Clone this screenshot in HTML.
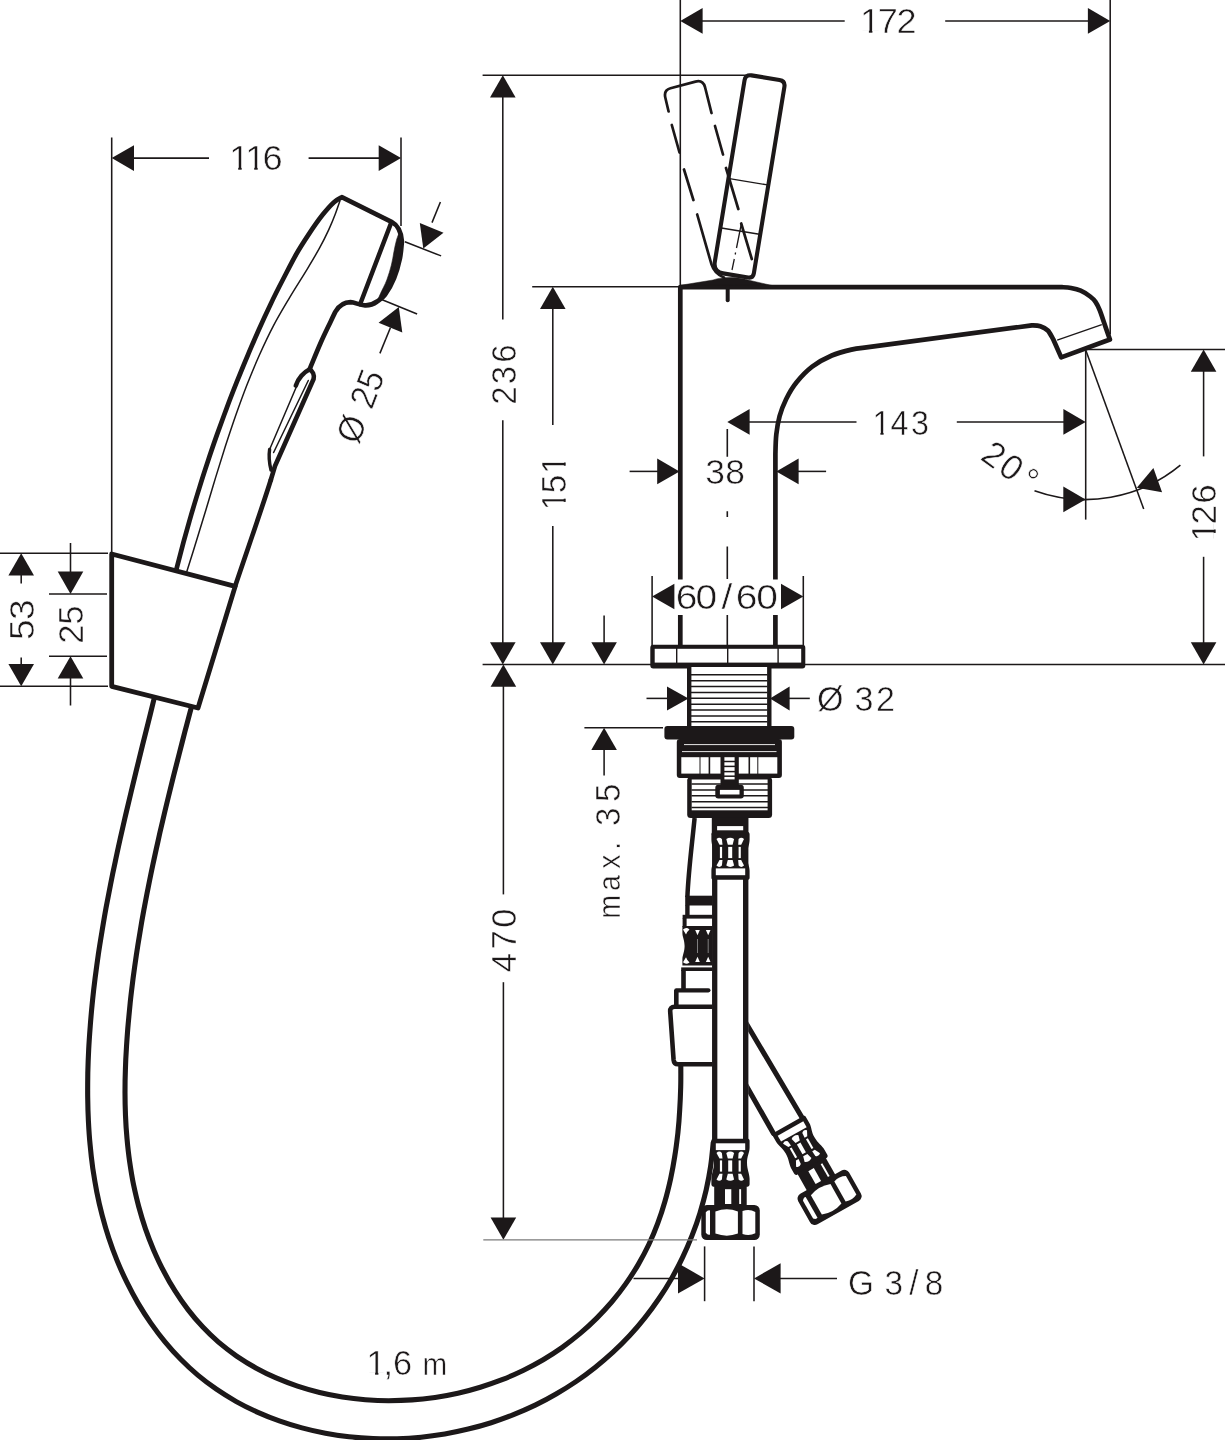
<!DOCTYPE html>
<html lang="en">
<head>
<meta charset="utf-8">
<title>Dimensional drawing</title>
<style>
html,body{margin:0;padding:0;background:#fff;}
body{width:1225px;height:1440px;overflow:hidden;}
svg{display:block;will-change:transform;}
svg text{font-family:"Liberation Sans",sans-serif;fill:#1c1819;white-space:pre;stroke:#fff;stroke-width:0.55px;}
</style>
</head>
<body>
<svg width="1225" height="1440" viewBox="0 0 1225 1440">
<rect x="0" y="0" width="1225" height="1440" fill="#fff"/>
<g id="hand-shower" stroke-linejoin="round" stroke-linecap="round">
<path d="M153.9 699.5C153 703.4 150.1 714.9 148.2 722.6C146.2 730.3 144.3 738 142.4 745.7C140.5 753.5 138.6 761.2 136.7 768.9C134.8 776.6 132.9 784.3 131.1 792C129.2 799.7 127.4 807.4 125.6 815.1C123.8 822.8 122.1 830.5 120.3 838.3C118.6 846 116.9 853.7 115.3 861.5C113.6 869.2 112 876.9 110.5 884.7C109 892.4 107.5 900.2 106 908C104.6 915.7 103.3 923.5 102 931.3C100.7 939.1 99.4 946.9 98.3 954.7C97.2 962.5 96.1 970.4 95.1 978.2C94.1 986 93.2 993.9 92.4 1001.8C91.6 1009.6 90.9 1017.5 90.3 1025.4C89.7 1033.3 89.1 1041.2 88.7 1049.2C88.3 1057.1 88 1065.1 87.8 1073C87.7 1081 87.6 1089 87.7 1097C87.8 1105 88 1112.9 88.4 1120.9C88.8 1128.9 89.3 1136.8 90.1 1144.8C90.8 1152.7 91.7 1160.6 92.8 1168.5C94 1176.3 95.3 1184.2 96.8 1192C98.3 1199.7 100.1 1207.5 102.1 1215.2C104.1 1222.8 106.3 1230.5 108.8 1238C111.3 1245.6 114 1253 117 1260.4C120 1267.8 123.3 1275 126.8 1282.2C130.3 1289.3 134 1296.3 138 1303.1C142 1309.9 146.3 1316.6 150.8 1323.1C155.3 1329.5 160 1335.8 165 1341.8C170 1347.9 175.2 1353.7 180.7 1359.2C186.2 1364.8 191.9 1370.1 197.8 1375.1C203.8 1380.1 210 1384.8 216.4 1389.2C222.8 1393.6 229.5 1397.7 236.3 1401.6C243.1 1405.4 250.1 1408.9 257.3 1412.1C264.5 1415.3 271.8 1418.3 279.3 1420.9C286.7 1423.5 294.3 1425.9 302 1427.9C309.7 1430 317.5 1431.8 325.4 1433.2C333.2 1434.7 341.2 1435.9 349.1 1436.8C357.1 1437.7 365.1 1438.3 373.1 1438.6C381.1 1438.9 389.1 1439 397.1 1438.7C405.1 1438.5 413.1 1438 421.1 1437.2C429 1436.4 436.9 1435.3 444.8 1434C452.6 1432.6 460.5 1431 468.2 1429.1C475.9 1427.2 483.6 1425.1 491.1 1422.7C498.7 1420.3 506.2 1417.6 513.5 1414.7C520.8 1411.7 528.1 1408.5 535.2 1405.1C542.3 1401.7 549.3 1398 556.1 1394C562.9 1390.1 569.6 1385.9 576.1 1381.5C582.6 1377.1 589 1372.4 595.1 1367.5C601.2 1362.7 607.2 1357.5 613 1352.2C618.7 1346.9 624.3 1341.3 629.7 1335.5C635 1329.8 640.1 1323.8 645 1317.6C649.9 1311.4 654.6 1305 659 1298.5C663.5 1292 667.7 1285.2 671.6 1278.4C675.5 1271.5 679.2 1264.5 682.6 1257.3C686.1 1250.1 689.2 1242.8 692.1 1235.4C695 1228 697.7 1220.5 700 1212.9C702.3 1205.3 704.4 1197.6 706.2 1189.9C707.9 1182.2 709.4 1174.3 710.6 1166.5C711.8 1158.6 712.8 1146.8 713.2 1142.8" fill="none" stroke="#1c1819" stroke-width="5.1" />
<path d="M190.8 709.3C189.8 713 186.9 724.2 184.9 731.6C183 739 181.1 746.5 179.2 753.9C177.3 761.3 175.4 768.7 173.5 776.2C171.7 783.6 169.8 791 168 798.5C166.2 805.9 164.4 813.3 162.7 820.8C160.9 828.2 159.2 835.6 157.6 843.1C155.9 850.5 154.3 858 152.7 865.5C151.1 872.9 149.6 880.4 148.1 887.9C146.6 895.3 145.2 902.8 143.8 910.3C142.4 917.8 141.1 925.3 139.9 932.8C138.6 940.4 137.4 947.9 136.3 955.4C135.2 963 134.1 970.5 133.1 978.1C132.2 985.7 131.2 993.2 130.4 1000.8C129.6 1008.4 128.9 1016 128.2 1023.7C127.5 1031.3 127 1039 126.5 1046.6C126 1054.3 125.6 1062 125.4 1069.6C125.1 1077.3 125 1085 125 1092.7C125 1100.4 125.2 1108 125.5 1115.7C125.8 1123.3 126.3 1131 127 1138.6C127.7 1146.3 128.5 1153.9 129.6 1161.4C130.7 1169 131.9 1176.6 133.4 1184.1C135 1191.6 136.7 1199.1 138.7 1206.5C140.7 1213.9 142.9 1221.3 145.4 1228.6C147.9 1235.9 150.7 1243.1 153.7 1250.2C156.8 1257.3 160 1264.3 163.6 1271C167.1 1277.8 170.9 1284.5 175 1290.9C179.1 1297.4 183.4 1303.6 188 1309.6C192.6 1315.6 197.5 1321.4 202.6 1326.8C207.7 1332.3 213.2 1337.5 218.8 1342.4C224.5 1347.2 230.5 1351.8 236.6 1356.1C242.8 1360.3 249.2 1364.3 255.8 1367.9C262.4 1371.5 269.2 1374.9 276.1 1377.9C283.1 1380.9 290.2 1383.6 297.5 1386.1C304.7 1388.5 312.1 1390.6 319.6 1392.4C327.1 1394.2 334.7 1395.7 342.3 1397C349.9 1398.2 357.7 1399.1 365.4 1399.7C373.1 1400.3 380.9 1400.7 388.7 1400.7C396.4 1400.7 404.2 1400.5 412 1399.9C419.7 1399.4 427.4 1398.5 435.1 1397.4C442.7 1396.3 450.4 1394.9 457.9 1393.2C465.4 1391.5 472.9 1389.5 480.3 1387.2C487.6 1385 494.9 1382.5 502.1 1379.7C509.2 1376.9 516.2 1373.8 523.1 1370.5C529.9 1367.1 536.7 1363.5 543.2 1359.7C549.7 1355.8 556.1 1351.7 562.3 1347.3C568.4 1342.9 574.4 1338.3 580.2 1333.4C585.9 1328.5 591.5 1323.4 596.8 1318.1C602.1 1312.8 607.2 1307.2 612.1 1301.5C617 1295.7 621.6 1289.7 625.9 1283.6C630.3 1277.4 634.4 1271.1 638.2 1264.6C642 1258 645.6 1251.3 648.8 1244.5C652.1 1237.6 655.1 1230.5 657.7 1223.4C660.4 1216.2 662.8 1208.9 664.9 1201.5C667.1 1194.1 668.9 1186.5 670.6 1178.9C672.2 1171.4 673.6 1163.7 674.8 1156C676.1 1148.4 677 1140.6 677.9 1132.9C678.7 1125.2 679.3 1117.5 679.7 1109.8C680.2 1102.2 680.5 1094.5 680.7 1087C680.9 1079.4 680.8 1068.3 680.8 1064.6" fill="none" stroke="#1c1819" stroke-width="5.1" />
<path d="M339.9 200.9C339.1 203.1 337.1 209.2 335.3 214C333.5 218.8 331.4 223.9 328.8 229.6C326.2 235.2 323.3 241.2 319.6 247.9C315.9 254.7 311.6 261.8 306.6 270.1C301.6 278.4 295.1 288.3 289.6 297.6C284.1 306.9 278.4 316.3 273.4 325.9C268.3 335.5 263.8 345.3 259.3 355.2C254.9 365.1 250.8 375.2 246.8 385.3C242.9 395.3 239.2 405.6 235.6 415.8C232 426.1 228.6 436.4 225.2 446.7C221.9 457.1 218.7 467.5 215.5 477.9C212.3 488.3 209.2 498.7 206.1 509.2C202.9 519.6 199.8 530 196.6 540.3C193.4 550.7 188.5 566.1 186.9 571.3" fill="none" stroke="#1c1819" stroke-width="1.5" />
<path d="M176.4 569.4C177.6 564.8 181.1 551.2 183.5 542.2C186 533.1 188.5 524.1 191.1 515.1C193.8 506 196.5 497 199.3 488.1C202 479.1 204.9 470.2 207.9 461.2C210.8 452.3 213.9 443.4 217 434.6C220.2 425.7 223.4 416.9 226.7 408.1C230 399.2 233.4 390.5 236.9 381.7C240.4 373 243.9 364.3 247.6 355.7C251.2 347 255 338.4 258.8 329.8C262.6 321.2 266.5 312.7 270.6 304.2C274.6 295.7 278.9 287.3 283.2 279C287.5 270.7 291.8 262.1 296.1 254.5C300.4 246.9 304.9 240.1 309.2 233.6C313.5 227.1 318.1 220.5 322.2 215.3C326.3 210.1 330.7 205.2 334 202.2C337.3 199.2 340.5 198 341.8 197.2L391.5 221.8C396.5 224.5 401.2 231 401.9 241.4C401.6 244.2 401.2 252.3 399.9 258.4C398.6 264.5 396.6 271.9 394.1 278C391.6 284.1 387.7 291.1 384.9 295C382.1 298.9 378.4 300.4 377.1 301.5C373 304.5 369 305.6 365 305.4 C359 305 355 302.3 350.5 302.2 C344 302.2 338.5 306.5 335.3 311.9C334.5 313.5 333 316.6 330.6 321.7C328.2 326.8 324.3 334.6 320.8 342.5C317.3 350.4 311.6 364.5 309.7 368.9" fill="none" stroke="#1c1819" stroke-width="4.7" />
<path d="M390.8 223.8 L360.1 304.3" fill="none" stroke="#1c1819" stroke-width="4.5" />
<path d="M400 230.5 C401.3 235 401.9 238 401.9 241.4C401.6 244.2 401.2 252.3 399.9 258.4C398.6 264.5 396.6 271.9 394.1 278C391.6 284.1 387.7 291.1 384.9 295C382.1 298.9 378.4 300.4 377.1 301.5C377.7 300.2 378.9 297.1 380.5 293.5C382.1 289.9 385 284.8 386.8 280C388.6 275.2 390.2 269.7 391.4 265C392.6 260.3 393.1 256.1 393.9 252C394.7 247.9 395.4 244.1 396.4 240.5C397.4 236.9 399.4 232.2 400 230.5Z" fill="#1c1819" stroke="#1c1819" stroke-width="0.6" />
<path d="M295.8 385.6 C298 378.5 304 372 309.7 369.2 C312.5 371 314.5 375 313.6 379 L275 466 L270.8 480" fill="none" stroke="#1c1819" stroke-width="4.6" />
<path d="M308.3 380.5 L273.6 452.5" fill="none" stroke="#1c1819" stroke-width="1.5" />
<path d="M296.5 386.5 L269.6 449.5" fill="none" stroke="#1c1819" stroke-width="1.5" />
<path d="M269.6 449.5 C268.6 456 269.5 464 271 470" fill="none" stroke="#1c1819" stroke-width="3.4" />
<path d="M270.8 480 C262 508 248 548 235.2 586" fill="none" stroke="#1c1819" stroke-width="4.7" />
<path d="M111.7 554 L235.2 586.4 L198 708 L111.7 686.3 Z" fill="#fff" stroke="#1c1819" stroke-width="4.8" />
</g>
<g id="faucet" stroke-linejoin="round" stroke-linecap="butt">
<path d="M680.3 645 L680.3 287.2 L1062 287.2C1063.5 287.3 1067.9 287.4 1071 288C1074.1 288.6 1077.5 289.3 1080.7 290.7C1083.9 292.1 1087.7 294.6 1090.2 296.5C1092.7 298.4 1093.9 299.5 1095.5 301.8C1097.1 304.1 1098.5 307.1 1099.8 310.3C1101.1 313.5 1101.8 316.1 1103.5 321C1105.2 325.9 1108.8 336.4 1109.9 339.5L1061.2 357.4 L1053.1 339C1052.2 337.6 1049.9 332.6 1047.8 330.5C1045.7 328.4 1043 327.2 1040.3 326.3C1037.6 325.4 1033.2 325.5 1031.8 325.4L864.5 347.6C862.3 347.9 856.9 348.3 851.4 349.6C845.9 350.9 838.3 352.7 831.8 355.5C825.3 358.3 818.1 362.2 812.2 366.6C806.3 371.1 801 376.8 796.6 382.2C792.2 387.6 788.9 393.5 786.1 399.2C783.3 404.9 781.2 410.3 779.6 416.2C778 422.1 777 428.2 776.3 434.5C775.6 440.8 775.5 450.8 775.4 454.1L775.4 645" fill="none" stroke="#1c1819" stroke-width="4.7" />
<line x1="1057.2" y1="340.1" x2="1101.8" y2="324.7" stroke="#1c1819" stroke-width="1.4" />
<path d="M680.5 285.3 L713 280 C722 276.5 740 276.5 748 280 L772 285.5 Z" fill="#1c1819" stroke="#1c1819" stroke-width="0.5" />
<line x1="727.7" y1="287" x2="727.7" y2="300.3" stroke="#1c1819" stroke-width="4" stroke-linecap="round"/>
<path d="M693.4 200 L684 169.5 M679.5 152.5 L671.8 125 M668.6 111.5 L665.4 98 C664 92.5 666 89.5 670.5 88.3 L695.5 81.6 C700.5 80.3 703.5 82 705 87 L711.5 113 M715 126 L723 154.5 M726 168 L738.3 209 M741.2 223.5 L751.8 259 M697.2 214.5 L711.5 264.5 C713.5 271 717 275 724 277.5" fill="none" stroke="#1c1819" stroke-width="2.7" stroke-linecap="round"/>
<path d="M741.3 224 L736.5 248 M735.6 252.5 L735.2 254.5 M734.3 259 L732 270" fill="none" stroke="#1c1819" stroke-width="1.3" />
<g transform="translate(745.5 74.4) rotate(9.3)">
<path d="M6 0 L34.4 0 Q40.4 0 40.4 6 L40.4 195 Q40.4 200 35.4 200 L10 200 Q0 200 0 190 L0 6 Q0 0 6 0 Z" fill="none" stroke="#1c1819" stroke-width="4.1"/>
<line x1="1" y1="105.5" x2="39.5" y2="105.5" stroke="#1c1819" stroke-width="1.4"/>
<line x1="1" y1="155.5" x2="39.5" y2="155.5" stroke="#1c1819" stroke-width="1.4"/>
</g>
<rect x="650.3" y="644.7" width="155" height="23.8" rx="3" fill="#1c1819" stroke="none" stroke-width="0"/>
<rect x="654.7" y="648.8" width="146.5" height="13.8" rx="0" fill="#fff" stroke="none" stroke-width="0"/>
<line x1="676.7" y1="648" x2="676.7" y2="663" stroke="#1c1819" stroke-width="1.4" />
<line x1="727.7" y1="648" x2="727.7" y2="663" stroke="#1c1819" stroke-width="1.4" />
<line x1="778.1" y1="648" x2="778.1" y2="663" stroke="#1c1819" stroke-width="1.4" />
</g>
<g id="under-counter" stroke-linejoin="round">
<rect x="687" y="667" width="84.5" height="60" rx="0" fill="#1c1819" stroke="none" stroke-width="0"/>
<rect x="691.4" y="667" width="75.7" height="60" rx="0" fill="#fff" stroke="none" stroke-width="0"/>
<line x1="691" y1="674.8" x2="767.5" y2="674.8" stroke="#1c1819" stroke-width="1.5" />
<line x1="691" y1="680.7" x2="767.5" y2="680.7" stroke="#1c1819" stroke-width="1.5" />
<line x1="691" y1="686.5" x2="767.5" y2="686.5" stroke="#1c1819" stroke-width="1.5" />
<line x1="691" y1="692.4" x2="767.5" y2="692.4" stroke="#1c1819" stroke-width="1.5" />
<line x1="691" y1="698.3" x2="767.5" y2="698.3" stroke="#1c1819" stroke-width="1.5" />
<line x1="691" y1="704.2" x2="767.5" y2="704.2" stroke="#1c1819" stroke-width="1.5" />
<line x1="691" y1="710" x2="767.5" y2="710" stroke="#1c1819" stroke-width="1.5" />
<line x1="691" y1="715.9" x2="767.5" y2="715.9" stroke="#1c1819" stroke-width="1.5" />
<line x1="691" y1="721.8" x2="767.5" y2="721.8" stroke="#1c1819" stroke-width="1.5" />
<rect x="664.4" y="725.9" width="129.9" height="13.7" rx="3" fill="#1c1819" stroke="none" stroke-width="0"/>
<rect x="676.8" y="739" width="105.1" height="39.1" rx="3" fill="#1c1819" stroke="none" stroke-width="0"/>
<rect x="681.3" y="757.2" width="96" height="16.4" rx="0" fill="#fff" stroke="none" stroke-width="0"/>
<line x1="684" y1="744.6" x2="775" y2="744.6" stroke="#fff" stroke-width="0.9" />
<line x1="682" y1="751.6" x2="776.5" y2="751.6" stroke="#fff" stroke-width="0.9" />
<line x1="700" y1="757" x2="700" y2="774" stroke="#1c1819" stroke-width="1" />
<line x1="709.4" y1="757" x2="709.4" y2="774" stroke="#1c1819" stroke-width="1.6" />
<line x1="749.3" y1="757" x2="749.3" y2="774" stroke="#1c1819" stroke-width="1.6" />
<line x1="757.8" y1="757" x2="757.8" y2="774" stroke="#1c1819" stroke-width="1" />
<rect x="687.2" y="777" width="84.9" height="41" rx="3.5" fill="#1c1819" stroke="none" stroke-width="0"/>
<rect x="691.7" y="779.5" width="75.9" height="30.8" rx="0" fill="#fff" stroke="none" stroke-width="0"/>
<line x1="691.5" y1="784" x2="768" y2="784" stroke="#1c1819" stroke-width="1.5" />
<line x1="691.5" y1="789.9" x2="768" y2="789.9" stroke="#1c1819" stroke-width="1.5" />
<line x1="691.5" y1="795.8" x2="768" y2="795.8" stroke="#1c1819" stroke-width="1.5" />
<line x1="691.5" y1="801.7" x2="768" y2="801.7" stroke="#1c1819" stroke-width="1.5" />
<line x1="691.5" y1="807.6" x2="768" y2="807.6" stroke="#1c1819" stroke-width="1.5" />
<rect x="720.5" y="756" width="18.3" height="30" rx="0" fill="#1c1819" stroke="none" stroke-width="0"/>
<rect x="724.4" y="757.2" width="10.2" height="22.2" rx="0" fill="#fff" stroke="none" stroke-width="0"/>
<line x1="724" y1="761.5" x2="735" y2="761.5" stroke="#1c1819" stroke-width="1.5" />
<line x1="724" y1="766.4" x2="735" y2="766.4" stroke="#1c1819" stroke-width="1.5" />
<line x1="724" y1="771.6" x2="735" y2="771.6" stroke="#1c1819" stroke-width="1.5" />
<line x1="724" y1="776.2" x2="735" y2="776.2" stroke="#1c1819" stroke-width="1.5" />
<rect x="715.3" y="784.7" width="28.5" height="13.7" rx="3" fill="#1c1819" stroke="none" stroke-width="0"/>
<rect x="719.9" y="789.9" width="19.6" height="4.6" rx="0" fill="#fff" stroke="none" stroke-width="0"/>
<path d="M694.6 818 C692 845 688.5 870 687.4 897" fill="none" stroke="#1c1819" stroke-width="4.5" />
<rect x="685.2" y="895.7" width="27.8" height="9.8" rx="0" fill="#1c1819" stroke="none" stroke-width="0"/>
<rect x="685.2" y="905" width="4.4" height="11" rx="0" fill="#1c1819" stroke="none" stroke-width="0"/>
<rect x="682.6" y="914.8" width="30.4" height="3.8" rx="0" fill="#1c1819" stroke="none" stroke-width="0"/>
<rect x="682.6" y="918" width="4" height="9" rx="0" fill="#1c1819" stroke="none" stroke-width="0"/>
<path d="M682.4 926 L713 926 L713 965.4 L682.4 965.4 L682.4 959 C682.4 955 684.6 952 684.6 946 C684.6 940 682.4 937 682.4 933 Z" fill="#1c1819"/>
<path d="M695.2 930 L699.8 930 L697.5 935.2 Z" fill="#fff"/>
<path d="M695.2 962 L699.8 962 L697.5 956.8 Z" fill="#fff"/>
<line x1="697.5" y1="939" x2="697.5" y2="953" stroke="#999" stroke-width="0.8" />
<path d="M705.9 930 L710.5 930 L708.2 935.2 Z" fill="#fff"/>
<path d="M705.9 962 L710.5 962 L708.2 956.8 Z" fill="#fff"/>
<line x1="708.2" y1="939" x2="708.2" y2="953" stroke="#999" stroke-width="0.8" />
<path d="M683 929.6 Q686 926.6 689.5 929.4 Q687 931.5 686 934.5 Z" fill="#fff"/>
<path d="M683 962.2 Q686 965 689.5 962.4 Q687 960.3 686 957.3 Z" fill="#fff"/>
<rect x="681.2" y="967.4" width="31.8" height="3.6" rx="0" fill="#1c1819" stroke="none" stroke-width="0"/>
<rect x="681.2" y="970" width="4.6" height="19" rx="0" fill="#1c1819" stroke="none" stroke-width="0"/>
<path d="M676.3 990.3 L708.4 990.3" fill="none" stroke="#1c1819" stroke-width="4.2" stroke-linecap="round"/>
<rect x="674" y="990.3" width="4.6" height="14.7" rx="0" fill="#1c1819" stroke="none" stroke-width="0"/>
<path d="M713 1006.7 L674.5 1006.7 C671.5 1006.7 670 1008.5 670.2 1011.5 L673.6 1060 C673.9 1063 675.5 1064.3 678 1064.3 L713 1064.3" fill="none" stroke="#1c1819" stroke-width="4.6" />
<path d="M744.5 1020.5 L802.6 1118.5 M744.5 1082.5 L773.5 1133.5" fill="none" stroke="#1c1819" stroke-width="5.1" stroke-linecap="round"/>
<g transform="translate(788.2 1124.6) rotate(-29.5)">
<path d="M-19 2 C-19 0.5 -18 0 -17 0 L17 0 C18.2 0 19.2 0.5 19.2 2 L19.2 9 C19.2 14 16.6 17 16.6 24 C16.6 31 19.2 35 19.2 40 L19.2 45.5 C19.2 47 18.2 47.9 17 47.9 L-17 47.9 C-18 47.9 -19 47 -19 45.5 L-19 40 C-19 35 -16.4 31 -16.4 24 C-16.4 17 -19 14 -19 9 Z" fill="#1c1819"/>
<rect x="-14.6" y="4.5" width="29.4" height="6.8" fill="#fff"/>
<rect x="-10.5" y="21.6" width="2.2" height="11.2" fill="#fff"/>
<path d="M-13.9 14.2 Q-11.2 11.4 -8.5 14.2 L-7.9 19.6 L-10.9 19.6 Z" fill="#fff"/>
<path d="M-13.9 40.6 Q-11.2 43.4 -8.5 40.6 L-7.9 35 L-10.9 35 Z" fill="#fff"/>
<rect x="-2.2" y="21.6" width="4" height="11.2" fill="#fff"/>
<path d="M-4.1 14.2 Q-0.2 11.4 3.7 14.2 L2.2 19.6 L-2.6 19.6 Z" fill="#fff"/>
<path d="M-4.1 40.6 Q-0.2 43.4 3.7 40.6 L2.2 35 L-2.6 35 Z" fill="#fff"/>
<rect x="8.2" y="21.6" width="2.2" height="11.2" fill="#fff"/>
<path d="M8.2 14.2 Q10.9 11.4 13.6 14.2 L10.8 19.6 L7.8 19.6 Z" fill="#fff"/>
<path d="M8.2 40.6 Q10.9 43.4 13.6 40.6 L10.8 35 L7.8 35 Z" fill="#fff"/>
<rect x="-16.2" y="47" width="32.5" height="21" fill="#1c1819"/>
<rect x="-5.4" y="50.4" width="6.3" height="14.8" fill="#fff"/>
<rect x="8.8" y="50.4" width="1.9" height="14.8" fill="#fff"/>
<rect x="-29.1" y="66.2" width="58.5" height="35" rx="5.5" fill="#1c1819"/>
<path d="M-24.6 73.5 Q-22.5 70.8 -20.4 71.6 L-20.4 95.6 Q-22.5 96.6 -24.6 94 Z" fill="#fff"/>
<path d="M-15 72.6 Q-3.5 68.5 7.5 72.6 L7.5 94.8 Q-3.5 99 -15 94.8 Z" fill="#fff"/>
<path d="M12.1 72.3 Q19 69.8 24.9 73.2 L24.9 94.4 Q19 97.6 12.1 95.2 Z" fill="#fff"/>
</g>
<rect x="712.5" y="818" width="35.7" height="324" rx="0" fill="#fff" stroke="none" stroke-width="0"/>
<line x1="714.7" y1="818" x2="714.7" y2="1142" stroke="#1c1819" stroke-width="5.3" />
<line x1="745.7" y1="818" x2="745.7" y2="1142" stroke="#1c1819" stroke-width="5.4" />
<rect x="711.8" y="817.6" width="36.3" height="17.4" rx="0" fill="#1c1819" stroke="none" stroke-width="0"/>
<rect x="717.1" y="826.1" width="26.1" height="4.2" rx="0" fill="#fff" stroke="none" stroke-width="0"/>
<g transform="translate(730.4 879.7) scale(1 -1)">
<path d="M-19 2 C-19 0.5 -18 0 -17 0 L17 0 C18.2 0 19.2 0.5 19.2 2 L19.2 9 C19.2 14 16.6 17 16.6 24 C16.6 31 19.2 35 19.2 40 L19.2 45.5 C19.2 47 18.2 47.9 17 47.9 L-17 47.9 C-18 47.9 -19 47 -19 45.5 L-19 40 C-19 35 -16.4 31 -16.4 24 C-16.4 17 -19 14 -19 9 Z" fill="#1c1819"/>
<rect x="-14.6" y="4.5" width="29.4" height="6.8" fill="#fff"/>
<rect x="-10.5" y="21.6" width="2.2" height="11.2" fill="#fff"/>
<path d="M-13.9 14.2 Q-11.2 11.4 -8.5 14.2 L-7.9 19.6 L-10.9 19.6 Z" fill="#fff"/>
<path d="M-13.9 40.6 Q-11.2 43.4 -8.5 40.6 L-7.9 35 L-10.9 35 Z" fill="#fff"/>
<rect x="-2.2" y="21.6" width="4" height="11.2" fill="#fff"/>
<path d="M-4.1 14.2 Q-0.2 11.4 3.7 14.2 L2.2 19.6 L-2.6 19.6 Z" fill="#fff"/>
<path d="M-4.1 40.6 Q-0.2 43.4 3.7 40.6 L2.2 35 L-2.6 35 Z" fill="#fff"/>
<rect x="8.2" y="21.6" width="2.2" height="11.2" fill="#fff"/>
<path d="M8.2 14.2 Q10.9 11.4 13.6 14.2 L10.8 19.6 L7.8 19.6 Z" fill="#fff"/>
<path d="M8.2 40.6 Q10.9 43.4 13.6 40.6 L10.8 35 L7.8 35 Z" fill="#fff"/>
</g>
<g transform="translate(730.4 1138.8)">
<path d="M-19 2 C-19 0.5 -18 0 -17 0 L17 0 C18.2 0 19.2 0.5 19.2 2 L19.2 9 C19.2 14 16.6 17 16.6 24 C16.6 31 19.2 35 19.2 40 L19.2 45.5 C19.2 47 18.2 47.9 17 47.9 L-17 47.9 C-18 47.9 -19 47 -19 45.5 L-19 40 C-19 35 -16.4 31 -16.4 24 C-16.4 17 -19 14 -19 9 Z" fill="#1c1819"/>
<rect x="-14.6" y="4.5" width="29.4" height="6.8" fill="#fff"/>
<rect x="-10.5" y="21.6" width="2.2" height="11.2" fill="#fff"/>
<path d="M-13.9 14.2 Q-11.2 11.4 -8.5 14.2 L-7.9 19.6 L-10.9 19.6 Z" fill="#fff"/>
<path d="M-13.9 40.6 Q-11.2 43.4 -8.5 40.6 L-7.9 35 L-10.9 35 Z" fill="#fff"/>
<rect x="-2.2" y="21.6" width="4" height="11.2" fill="#fff"/>
<path d="M-4.1 14.2 Q-0.2 11.4 3.7 14.2 L2.2 19.6 L-2.6 19.6 Z" fill="#fff"/>
<path d="M-4.1 40.6 Q-0.2 43.4 3.7 40.6 L2.2 35 L-2.6 35 Z" fill="#fff"/>
<rect x="8.2" y="21.6" width="2.2" height="11.2" fill="#fff"/>
<path d="M8.2 14.2 Q10.9 11.4 13.6 14.2 L10.8 19.6 L7.8 19.6 Z" fill="#fff"/>
<path d="M8.2 40.6 Q10.9 43.4 13.6 40.6 L10.8 35 L7.8 35 Z" fill="#fff"/>
<rect x="-16.2" y="47" width="32.5" height="21" fill="#1c1819"/>
<rect x="-5.4" y="50.4" width="6.3" height="14.8" fill="#fff"/>
<rect x="8.8" y="50.4" width="1.9" height="14.8" fill="#fff"/>
<rect x="-29.1" y="66.2" width="58.5" height="35" rx="5.5" fill="#1c1819"/>
<path d="M-24.6 73.5 Q-22.5 70.8 -20.4 71.6 L-20.4 95.6 Q-22.5 96.6 -24.6 94 Z" fill="#fff"/>
<path d="M-15 72.6 Q-3.5 68.5 7.5 72.6 L7.5 94.8 Q-3.5 99 -15 94.8 Z" fill="#fff"/>
<path d="M12.1 72.3 Q19 69.8 24.9 73.2 L24.9 94.4 Q19 97.6 12.1 95.2 Z" fill="#fff"/>
</g>
</g>
<g id="dimensions">
<line x1="111.7" y1="137.5" x2="111.7" y2="552" stroke="#1c1819" stroke-width="1.55" />
<line x1="401" y1="137.5" x2="401" y2="226" stroke="#1c1819" stroke-width="1.55" />
<line x1="133" y1="158.1" x2="209" y2="158.1" stroke="#1c1819" stroke-width="1.55" />
<line x1="308.6" y1="158.1" x2="380" y2="158.1" stroke="#1c1819" stroke-width="1.55" />
<polygon points="111.7,158.1 134,145.3 134,170.9" fill="#1c1819"/>
<polygon points="401,158.1 378.7,170.9 378.7,145.3" fill="#1c1819"/>
<g transform="translate(234.9 169.9)">
<text x="-5.5 10.2 27.2" y="0" font-size="35.6" transform="scale(1.017 1)">116</text>
<rect x="-3.7" y="-3.1" width="7" height="3.9" fill="#fff"/>
<rect x="6.8" y="-3.1" width="6.7" height="3.9" fill="#fff"/>
<rect x="12.3" y="-3.1" width="7" height="3.9" fill="#fff"/>
<rect x="22.8" y="-3.1" width="6.7" height="3.9" fill="#fff"/>
</g>
<line x1="404.9" y1="241.7" x2="441.1" y2="255.9" stroke="#1c1819" stroke-width="1.55" />
<line x1="381.6" y1="299.5" x2="417.1" y2="314" stroke="#1c1819" stroke-width="1.55" />
<line x1="440.4" y1="202" x2="432" y2="222.6" stroke="#1c1819" stroke-width="1.55" />
<polygon points="423.3,248.6 419.8,223.1 443.5,232.7" fill="#1c1819"/>
<polygon points="398.8,306.9 402.3,332.4 378.6,322.8" fill="#1c1819"/>
<line x1="390.5" y1="327.5" x2="379.9" y2="353.4" stroke="#1c1819" stroke-width="1.55" />
<g transform="translate(358.5 445.1) rotate(-69)">
<text y="0" font-size="35.6" transform="scale(0.944 1)"><tspan x="-0.6">Ø</tspan> <tspan x="39.2 59.2">25</tspan></text>
</g>
<line x1="0" y1="553.3" x2="108" y2="553.3" stroke="#1c1819" stroke-width="1.55" />
<line x1="0" y1="686.2" x2="108" y2="686.2" stroke="#1c1819" stroke-width="1.55" />
<polygon points="21.2,553.3 34,575.6 8.4,575.6" fill="#1c1819"/>
<polygon points="21.2,686.2 8.4,663.9 34,663.9" fill="#1c1819"/>
<line x1="21.2" y1="575" x2="21.2" y2="583.5" stroke="#1c1819" stroke-width="1.55" />
<line x1="21.2" y1="657.5" x2="21.2" y2="664.5" stroke="#1c1819" stroke-width="1.55" />
<g transform="translate(33.5 639.2) rotate(-90)">
<text x="-0.8 18.4" y="0" font-size="35.6" transform="scale(1.043 1)">53</text>
</g>
<line x1="49" y1="593.9" x2="107" y2="593.9" stroke="#1c1819" stroke-width="1.55" />
<line x1="49" y1="656.2" x2="107" y2="656.2" stroke="#1c1819" stroke-width="1.55" />
<line x1="70.5" y1="543" x2="70.5" y2="572" stroke="#1c1819" stroke-width="1.55" />
<polygon points="70.5,593.9 57.7,571.6 83.3,571.6" fill="#1c1819"/>
<polygon points="70.5,656.2 83.3,678.5 57.7,678.5" fill="#1c1819"/>
<line x1="70.5" y1="678" x2="70.5" y2="705.5" stroke="#1c1819" stroke-width="1.55" />
<g transform="translate(83.3 642.4) rotate(-90)">
<text x="-1.4 18.2" y="0" font-size="35.6" transform="scale(0.974 1)">25</text>
</g>
<g transform="translate(371.6 1375.4)">
<text y="0" font-size="35.6" transform="scale(0.964 1)"><tspan x="-5.2 12.3 22.3">1,6</tspan> <tspan x="52.8" font-size="30.8">m</tspan></text>
<rect x="-3.2" y="-3.1" width="6.7" height="3.9" fill="#fff"/>
<rect x="6.8" y="-3.1" width="6.4" height="3.9" fill="#fff"/>
</g>
<line x1="680.3" y1="0" x2="680.3" y2="285" stroke="#1c1819" stroke-width="1.55" />
<line x1="1110.2" y1="0" x2="1110.2" y2="334.5" stroke="#1c1819" stroke-width="1.55" />
<line x1="702" y1="20.9" x2="844.7" y2="20.9" stroke="#1c1819" stroke-width="1.55" />
<line x1="945.2" y1="20.9" x2="1088" y2="20.9" stroke="#1c1819" stroke-width="1.55" />
<polygon points="680.3,20.9 702.6,8.1 702.6,33.7" fill="#1c1819"/>
<polygon points="1110.2,20.9 1087.9,33.7 1087.9,8.1" fill="#1c1819"/>
<g transform="translate(865 33.3)">
<text x="-4.9 12.6 31.1" y="0" font-size="35.6" transform="scale(1.015 1)">172</text>
<rect x="-3.1" y="-3.1" width="7" height="3.9" fill="#fff"/>
<rect x="7.4" y="-3.1" width="6.7" height="3.9" fill="#fff"/>
</g>
<line x1="482.6" y1="75.3" x2="746" y2="75.3" stroke="#1c1819" stroke-width="1.55" />
<line x1="482.6" y1="664.5" x2="651" y2="664.5" stroke="#1c1819" stroke-width="1.55" />
<line x1="805" y1="664.5" x2="1225" y2="664.5" stroke="#1c1819" stroke-width="1.55" />
<polygon points="502.8,75.3 515.6,97.6 490,97.6" fill="#1c1819"/>
<polygon points="502.8,664.5 490,642.2 515.6,642.2" fill="#1c1819"/>
<line x1="502.8" y1="97" x2="502.8" y2="319.6" stroke="#1c1819" stroke-width="1.55" />
<line x1="502.8" y1="420.2" x2="502.8" y2="643" stroke="#1c1819" stroke-width="1.55" />
<g transform="translate(515.6 403.1) rotate(-90)">
<text x="-1.8 20.5 43.6" y="0" font-size="35.6" transform="scale(0.924 1)">236</text>
</g>
<polygon points="503.4,664.5 516.2,686.8 490.6,686.8" fill="#1c1819"/>
<polygon points="503.4,1239.8 490.6,1217.5 516.2,1217.5" fill="#1c1819"/>
<line x1="503.4" y1="686" x2="503.4" y2="894.4" stroke="#1c1819" stroke-width="1.55" />
<line x1="503.4" y1="982.2" x2="503.4" y2="1218" stroke="#1c1819" stroke-width="1.55" />
<g transform="translate(516.4 971.1) rotate(-90)">
<text x="-1.3 22.2 44.6" y="0" font-size="35.6" transform="scale(0.970 1)">470</text>
</g>
<line x1="483.3" y1="1239.9" x2="697" y2="1239.9" stroke="#7a7a7a" stroke-width="1.3" />
<line x1="532.2" y1="286.7" x2="680" y2="286.7" stroke="#1c1819" stroke-width="1.55" />
<polygon points="552.8,286.7 565.6,309 540,309" fill="#1c1819"/>
<polygon points="552.8,664.5 540,642.2 565.6,642.2" fill="#1c1819"/>
<line x1="552.8" y1="308" x2="552.8" y2="425" stroke="#1c1819" stroke-width="1.55" />
<line x1="552.8" y1="526" x2="552.8" y2="643" stroke="#1c1819" stroke-width="1.55" />
<g transform="translate(566 505.4) rotate(-90)">
<text x="-5.1 13.1 33.6" y="0" font-size="35.6" transform="scale(0.936 1)">151</text>
<rect x="-3" y="-3.1" width="6.5" height="3.9" fill="#fff"/>
<rect x="6.7" y="-3.1" width="6.2" height="3.9" fill="#fff"/>
<rect x="33.2" y="-3.1" width="6.5" height="3.9" fill="#fff"/>
<rect x="42.9" y="-3.1" width="6.2" height="3.9" fill="#fff"/>
</g>
<line x1="604.1" y1="615.5" x2="604.1" y2="643" stroke="#1c1819" stroke-width="1.55" />
<polygon points="604.1,664.5 591.3,642.2 616.9,642.2" fill="#1c1819"/>
<line x1="584.4" y1="727.8" x2="663" y2="727.8" stroke="#1c1819" stroke-width="1.55" />
<polygon points="604.1,727.8 616.9,750.1 591.3,750.1" fill="#1c1819"/>
<line x1="604.1" y1="749" x2="604.1" y2="775.6" stroke="#1c1819" stroke-width="1.55" />
<g transform="translate(619.6 916.7) rotate(-90)">
<text y="0" font-size="35.6" transform="scale(0.928 1)"><tspan x="-2.2 27.6 51.8 72.1" font-size="30.8">max.</tspan> <tspan x="97.7 123.5">35</tspan></text>
</g>
<line x1="629.6" y1="471.4" x2="658" y2="471.4" stroke="#1c1819" stroke-width="1.55" />
<polygon points="679.5,471.4 657.2,484.2 657.2,458.6" fill="#1c1819"/>
<polygon points="776.3,471.4 798.6,458.6 798.6,484.2" fill="#1c1819"/>
<line x1="798" y1="471.4" x2="826.1" y2="471.4" stroke="#1c1819" stroke-width="1.55" />
<g transform="translate(706.9 484.4)">
<text x="-1.6 18.4" y="0" font-size="35.6" transform="scale(0.995 1)">38</text>
</g>
<path d="M727.3 429 L727.3 456.7 M727.3 511.3 L727.3 517 M727.3 546.5 L727.3 579 M727.3 614 L727.3 647" fill="none" stroke="#1c1819" stroke-width="1.6" />
<line x1="1085.7" y1="349.4" x2="1085.7" y2="519.6" stroke="#1c1819" stroke-width="1.55" />
<polygon points="727.3,421.9 749.6,409.1 749.6,434.7" fill="#1c1819"/>
<polygon points="1085.7,421.9 1063.4,434.7 1063.4,409.1" fill="#1c1819"/>
<line x1="749" y1="421.9" x2="856.5" y2="421.9" stroke="#1c1819" stroke-width="1.55" />
<line x1="956.8" y1="421.9" x2="1064" y2="421.9" stroke="#1c1819" stroke-width="1.55" />
<g transform="translate(876.9 434.5)">
<text x="-4.9 14.9 37.7" y="0" font-size="35.6" transform="scale(0.906 1)">143</text>
<rect x="-2.8" y="-3.1" width="6.3" height="3.9" fill="#fff"/>
<rect x="6.7" y="-3.1" width="6" height="3.9" fill="#fff"/>
</g>
<line x1="1086.6" y1="349.4" x2="1225" y2="349.4" stroke="#1c1819" stroke-width="1.55" />
<polygon points="1203.6,349.4 1216.4,371.7 1190.8,371.7" fill="#1c1819"/>
<polygon points="1203.6,664.5 1190.8,642.2 1216.4,642.2" fill="#1c1819"/>
<line x1="1203.6" y1="371" x2="1203.6" y2="456.4" stroke="#1c1819" stroke-width="1.55" />
<line x1="1203.6" y1="556.8" x2="1203.6" y2="643" stroke="#1c1819" stroke-width="1.55" />
<g transform="translate(1216.4 536.4) rotate(-90)">
<text x="-5.3 12 33.2" y="0" font-size="35.6" transform="scale(0.986 1)">126</text>
<rect x="-3.3" y="-3.1" width="6.8" height="3.9" fill="#fff"/>
<rect x="6.9" y="-3.1" width="6.5" height="3.9" fill="#fff"/>
</g>
<line x1="1085.9" y1="350.4" x2="1143.7" y2="509.1" stroke="#1c1819" stroke-width="1.55" />
<path d="M1034.5 490.7 A149.5 149.5 0 0 0 1180.4 465.2" fill="none" stroke="#1c1819" stroke-width="1.6" />
<polygon points="1085.6,499.4 1063.3,512.2 1063.3,486.6" fill="#1c1819"/>
<polygon points="1136.8,487.8 1153.4,468.1 1162.1,492.2" fill="#1c1819"/>
<g transform="translate(980.6 460) rotate(36)">
<text x="-2 20 44.7" y="0" font-size="35.6" transform="scale(0.977 1)">20°</text>
</g>
<rect x="656" y="579.5" width="144" height="35.5" rx="0" fill="#fff" stroke="none" stroke-width="0"/>
<line x1="652.1" y1="576" x2="652.1" y2="647" stroke="#1c1819" stroke-width="1.55" />
<line x1="803.3" y1="576" x2="803.3" y2="647" stroke="#1c1819" stroke-width="1.55" />
<polygon points="652.1,596.5 674.4,583.7 674.4,609.3" fill="#1c1819"/>
<polygon points="803.3,596.5 781,609.3 781,583.7" fill="#1c1819"/>
<g transform="translate(677.9 609)">
<text x="-2 16.2 39.9 52.8 71.6" y="0" font-size="35.6" transform="scale(1.094 1)">60/60</text>
</g>
<line x1="646.5" y1="698.4" x2="668" y2="698.4" stroke="#1c1819" stroke-width="1.55" />
<polygon points="688.5,698.4 667,710.4 667,686.4" fill="#1c1819"/>
<polygon points="770,698.4 789.6,686.4 789.6,710.4" fill="#1c1819"/>
<line x1="789" y1="698.4" x2="809.8" y2="698.4" stroke="#1c1819" stroke-width="1.55" />
<g transform="translate(817.6 711.1)">
<text y="0" font-size="35.6" transform="scale(0.959 1)"><tspan x="-0.6">Ø</tspan> <tspan x="38.6 60.9">32</tspan></text>
</g>
<line x1="704.6" y1="1246.4" x2="704.6" y2="1301.2" stroke="#1c1819" stroke-width="1.55" />
<line x1="754" y1="1246.4" x2="754" y2="1301.2" stroke="#1c1819" stroke-width="1.55" />
<line x1="633.5" y1="1278.4" x2="678" y2="1278.4" stroke="#1c1819" stroke-width="1.55" />
<polygon points="704.6,1278.4 678,1293.6 678,1263.2" fill="#1c1819"/>
<polygon points="754,1278.4 780.6,1263.2 780.6,1293.6" fill="#1c1819"/>
<line x1="780" y1="1278.4" x2="837" y2="1278.4" stroke="#1c1819" stroke-width="1.55" />
<g transform="translate(848 1294.8)">
<text y="0" font-size="35.6" transform="scale(0.937 1)"><tspan x="0.1">G</tspan> <tspan x="39 65.4 81.9">3/8</tspan></text>
</g>
</g>
</svg>
</body>
</html>
